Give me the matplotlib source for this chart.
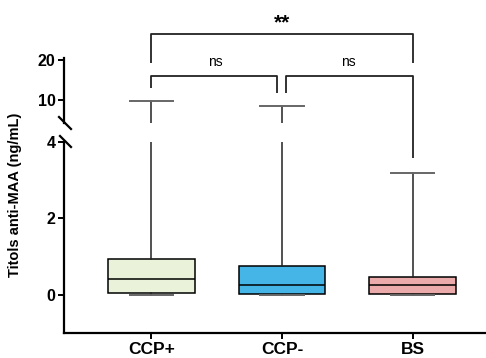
import matplotlib
matplotlib.use("Agg")
import matplotlib.pyplot as plt
from matplotlib.lines import Line2D

plt.rcParams['font.family'] = ['Liberation Sans', 'DejaVu Sans']

groups = ["CCP+", "CCP-", "BS"]
q1 = [0.03, 0.01, 0.01]
medians = [0.41, 0.255, 0.24]
q3 = [0.94, 0.755, 0.47]
whisk_lo = [0.0, 0.0, 0.0]
whisk_hi = [9.8, 8.6, 3.2]
box_colors = ["#EAF2D9", "#45B4E6", "#EBABAB"]
lower_ticks = [0, 2, 4]
upper_ticks = [10, 20]

W, H = 486, 358
fig = plt.figure(figsize=(W / 100, H / 100), dpi=100)


def rect(l, t, r, b):
    return [l / W, 1 - b / H, (r - l) / W, (b - t) / H]


ax_lo = fig.add_axes(rect(64, 142, 486, 332.7))
ax_hi = fig.add_axes(rect(64, 58, 486, 123), sharex=ax_lo)

stats = [dict(med=m, q1=a, q3=b, whislo=lo, whishi=hi, fliers=[])
         for m, a, b, lo, hi in zip(medians, q1, q3, whisk_lo, whisk_hi)]
pos = list(range(len(groups)))

for ax in (ax_lo, ax_hi):
    bp = ax.bxp(stats, positions=pos, widths=0.66, capwidths=0.33,
                patch_artist=True, showfliers=False,
                boxprops=dict(edgecolor="black", linewidth=1.1),
                medianprops=dict(color="black", linewidth=1.1),
                whiskerprops=dict(color="#222222", linewidth=1.1),
                capprops=dict(color="#666666", linewidth=1.4))
    for patch, c in zip(bp["boxes"], box_colors):
        patch.set_facecolor(c)
    ax.set_facecolor("none")
    for s in ("top", "right"):
        ax.spines[s].set_visible(False)
    ax.spines["left"].set_linewidth(1.6)
    ax.tick_params(axis="y", length=4, width=1.4, pad=2, labelsize=11.5)

ax_lo.set_xlim(-0.670, 2.563)
ax_lo.set_ylim(-1, 4)
ax_lo.set_yticks(lower_ticks)
ax_lo.set_yticklabels([str(t) for t in lower_ticks], fontweight="bold")
ax_lo.spines["bottom"].set_linewidth(1.6)
ax_lo.set_xticks(pos)
ax_lo.set_xticklabels(groups, fontweight="bold", fontsize=12.5)
ax_lo.tick_params(axis="x", length=4, width=1.4, pad=3)

ax_hi.set_ylim(4.25, 20.5)
ax_hi.set_yticks(upper_ticks)
ax_hi.set_yticklabels([str(t) for t in upper_ticks], fontweight="bold")
ax_hi.spines["bottom"].set_visible(False)
ax_hi.tick_params(axis="x", bottom=False, labelbottom=False)

# axis break marks
for (x0, y0, x1, y1) in [(59, 117, 71, 129), (60, 136, 71, 147)]:
    fig.add_artist(Line2D([x0 / W, x1 / W], [1 - y0 / H, 1 - y1 / H],
                          transform=fig.transFigure, color="black", lw=1.6))

# significance brackets (upper axes data coordinates)
bk = dict(color="#222222", lw=1.3, clip_on=False, solid_capstyle="butt")
ax_hi.plot([0, 0, 2, 2], [19.3, 26.4, 26.4, 19.3], **bk)
ax_hi.text(1, 29.3, "**", ha="center", va="center", fontsize=15, fontweight="bold")
ax_hi.plot([0, 0, 0.964, 0.964], [12.9, 16.0, 16.0, 11.7], **bk)
ax_hi.plot([1.028, 1.028, 2, 2], [11.7, 16.0, 16.0, -4.5], **bk)
ax_hi.text(0.49, 19.5, "ns", ha="center", va="center", fontsize=10)
ax_hi.text(1.51, 19.5, "ns", ha="center", va="center", fontsize=10)

fig.text(15 / W, 1 - 194.5 / H, "Titols anti-MAA (ng/mL)", rotation=90,
         ha="center", va="center", fontsize=10.5, fontweight="bold")

fig.savefig("out.png", dpi=100)
